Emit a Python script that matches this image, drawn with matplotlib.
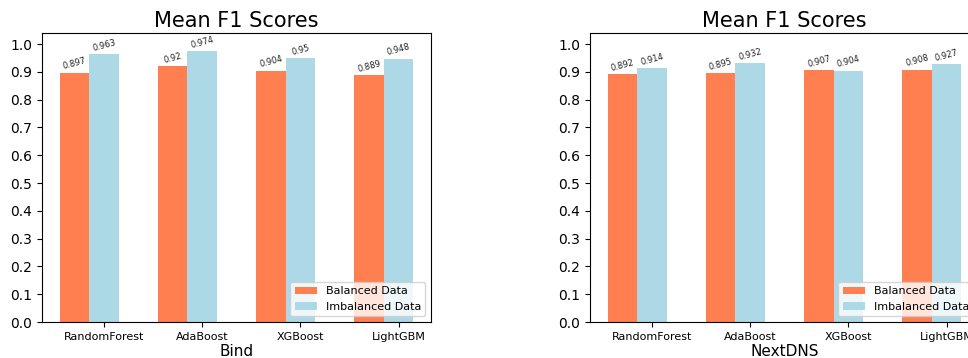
import matplotlib.pyplot as plt
import numpy as np

models = ['RandomForest', 'AdaBoost', 'XGBoost', 'LightGBM']
providers = ['Bind', 'NextDNS']
balanced_f1 = {
    'Bind': [0.897, 0.92, 0.904, 0.889],
    'NextDNS': [0.892, 0.895, 0.907, 0.908],
}
imbalanced_f1 = {
    'Bind': [0.963, 0.974, 0.95, 0.948],
    'NextDNS': [0.914, 0.932, 0.904, 0.927],
}

W, H = 968, 358
fig = plt.figure(figsize=(W / 100, H / 100), dpi=100)

# axes boxes in pixels: left, bottom, width, height
boxes = [(42, 36, 389, 289), (590, 36, 389, 289)]

x = np.arange(len(models))
width = 0.3

for name, (l, b, w, h) in zip(providers, boxes):
    ax = fig.add_axes([l / W, b / H, w / W, h / H])
    bars1 = ax.bar(x - width, balanced_f1[name], width, color='coral', label='Balanced Data')
    bars2 = ax.bar(x, imbalanced_f1[name], width, color='lightblue', label='Imbalanced Data')

    for bars in (bars1, bars2):
        for bar in bars:
            val = bar.get_height()
            ax.text(bar.get_x() + bar.get_width() / 2, val + 0.005, str(val),
                    ha='center', va='bottom', fontsize=6, rotation=15, color='#222222')

    ax.set_xticks(x)
    ax.set_xticklabels(models, fontsize=8)
    ax.set_yticks(np.arange(0, 1.01, 0.1))
    ax.set_ylim(0, 1.04)
    ax.set_title('Mean F1 Scores', fontsize=15, pad=4)
    ax.set_xlabel(name, fontsize=11, labelpad=2)
    ax.legend(loc='lower right', fontsize=8)

fig.savefig('out.png', dpi=100)
